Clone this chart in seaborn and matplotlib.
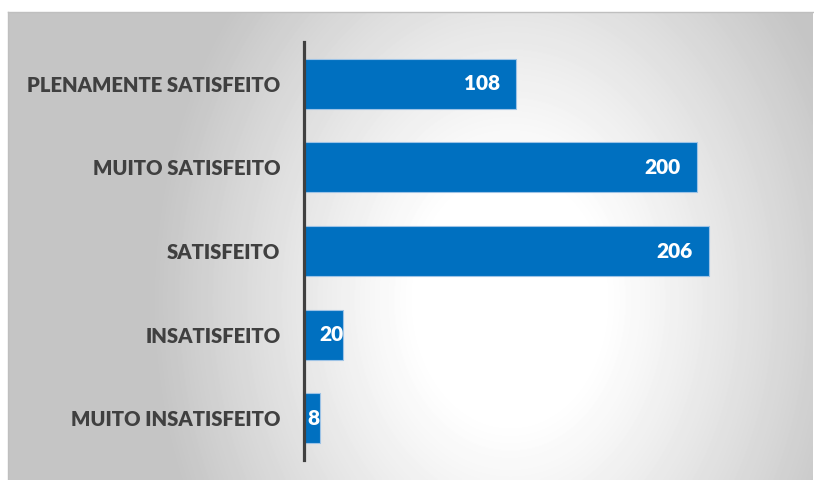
import numpy as np
import matplotlib
matplotlib.use("Agg")
import matplotlib.pyplot as plt
import seaborn as sns

categories = ["PLENAMENTE SATISFEITO", "MUITO SATISFEITO", "SATISFEITO",
              "INSATISFEITO", "MUITO INSATISFEITO"]
counts = [108, 200, 206, 20, 8]

BAR_COLOR = "#0070C0"
TEXT_COLOR = "#404040"

sns.set_theme(style="white")
plt.rcParams["font.family"] = ["Lato", "DejaVu Sans"]

W, H = 814, 480
fig = plt.figure(figsize=(W / 100, H / 100), dpi=100, facecolor="white")

# chart area with a soft radial grey-to-white fill
x0, y0, x1, y1 = 8, 12, 813, 480
bg = fig.add_axes([x0 / W, 1 - y1 / H, (x1 - x0) / W, (y1 - y0) / H], zorder=0)
gx, gy = np.meshgrid(np.arange(x0, x1), np.arange(y0, y1))
cx, cy = 510, 300
rho = np.sqrt(((gx - cx) / 330.0) ** 2 + ((gy - cy) / 430.0) ** 2)
t = np.clip((rho - 0.28) / 0.8, 0, 1) ** 1.1
shade = (255 - 58 * t) / 255.0
bg.imshow(shade, cmap="gray", vmin=0, vmax=1, aspect="auto", interpolation="bilinear")
bg.set_xticks([])
bg.set_yticks([])
for side in ["right", "bottom"]:
    bg.spines[side].set_visible(False)
for side in ["top", "left"]:
    bg.spines[side].set_color("#BFBFBF")
    bg.spines[side].set_linewidth(1.0)

# bar plot
ax_left, ax_right, ax_top, ax_bottom = 304, 795, 42, 460
ax = fig.add_axes([ax_left / W, 1 - ax_bottom / H, (ax_right - ax_left) / W,
                   (ax_bottom - ax_top) / H], zorder=1)
ax.patch.set_alpha(0)

sns.barplot(x=counts, y=categories, orient="h", color=BAR_COLOR, width=0.6,
            edgecolor="#9DC3E6", linewidth=0.8, saturation=1, ax=ax)

ax.set_xlim(0, 250)
ax.set_ylim(4.5, -0.5)
ax.set_xlabel("")
ax.set_ylabel("")
ax.set_xticks([])
ax.tick_params(axis="y", length=0, pad=17, labelsize=14.6, labelcolor=TEXT_COLOR)
for lbl in ax.get_yticklabels():
    lbl.set_fontweight("heavy")
for side in ["top", "right", "bottom"]:
    ax.spines[side].set_visible(False)
ax.spines["left"].set_color("#404040")
ax.spines["left"].set_linewidth(2.3)
ax.spines["left"].set_zorder(5)

px_per_unit = (ax_right - ax_left) / 250.0
for i, v in enumerate(counts):
    pad_px = 16 if v * px_per_unit > 60 else 0
    ax.annotate(str(v), xy=(v, i), xytext=(-pad_px * 0.72, 0),
                textcoords="offset points", ha="right", va="center",
                color="white", fontweight="heavy", fontsize=15)

fig.savefig("out.png", dpi=100, facecolor="white")
